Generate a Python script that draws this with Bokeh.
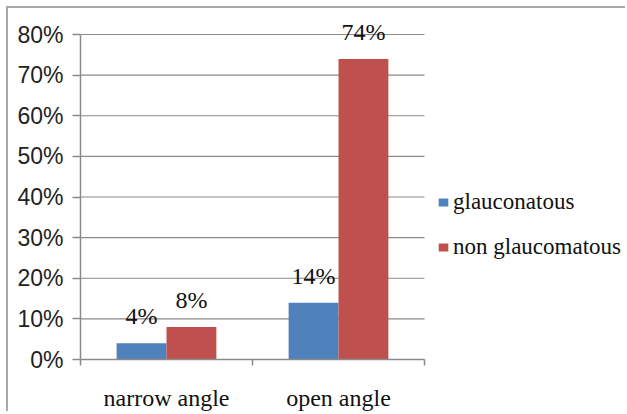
from bokeh.plotting import figure
from bokeh.models import (Range1d, FixedTicker, NumeralTickFormatter, ColumnDataSource,
                          LabelSet, Legend, LegendItem)
from bokeh.transform import dodge
from bokeh.embed import file_html
from bokeh.resources import INLINE

# ---- data ----
categories = ["narrow angle", "open angle"]
series_names = ["glauconatous", "non glaucomatous"]
glauconatous = [0.04, 0.14]
non_glaucomatous = [0.08, 0.74]
y_ticks = [0.0, 0.1, 0.2, 0.3, 0.4, 0.5, 0.6, 0.7, 0.8]

BLUE = "#4F81BD"
RED = "#C0504D"
GRID = "#8a8a8a"
SERIF = "Liberation Serif"
SANS = "Liberation Sans"

# layout (pixels): frame fills to the top and right edge so labels/legend aren't clipped
W_PX, H_PX = 619, 405
FRAME_L, FRAME_B = 72, 54
PLOT_W_PX, PLOT_H_PX = 344, 325   # pixel extent of the category span / 0..80% span
frame_w = W_PX - FRAME_L
frame_h = H_PX - FRAME_B
ncat = len(categories)
x_end = ncat * frame_w / PLOT_W_PX
y_end = y_ticks[-1] * frame_h / PLOT_H_PX

idx = list(range(ncat))
src = ColumnDataSource(dict(
    xc=[i + 0.5 for i in idx],
    g=glauconatous,
    n=non_glaucomatous,
    gl=[f"{round(v * 100)}%" for v in glauconatous],
    nl=[f"{round(v * 100)}%" for v in non_glaucomatous],
))

p = figure(width=W_PX, height=H_PX, output_backend="svg", toolbar_location=None,
           x_range=Range1d(0, x_end), y_range=Range1d(0, y_end),
           min_border_left=FRAME_L, min_border_right=0, min_border_top=0,
           min_border_bottom=FRAME_B)
p.outline_line_color = None
p.background_fill_color = "white"
p.border_fill_color = "white"
p.styles = {"border-top": "2px solid #a8a8a8", "border-left": "2px solid #a8a8a8",
            "margin-left": "6px", "margin-top": "6px"}

# gridlines over the category span only
p.segment(x0=[0] * len(y_ticks), x1=[ncat] * len(y_ticks), y0=y_ticks, y1=y_ticks,
          line_color=GRID, line_width=1.2)
p.xgrid.grid_line_color = None
p.ygrid.grid_line_color = None

W = 0.29
r1 = p.vbar(x=dodge("xc", -W / 2, range=p.x_range), top="g", width=W, source=src,
            fill_color=BLUE, line_color=None)
r2 = p.vbar(x=dodge("xc", W / 2, range=p.x_range), top="n", width=W, source=src,
            fill_color=RED, line_color=None)

for col, lab, off in (("g", "gl", -W / 2), ("n", "nl", W / 2)):
    p.add_layout(LabelSet(x=dodge("xc", off, range=p.x_range), y=col, text=lab, source=src,
                          y_offset=19, text_align="center", text_baseline="alphabetic",
                          text_font=SERIF, text_font_size="24px", text_color="#111111"))

# x axis
p.xaxis.bounds = (0, ncat)
p.xaxis.ticker = FixedTicker(ticks=[i + 0.5 for i in idx],
                             minor_ticks=[float(i) for i in range(ncat + 1)])
p.xaxis.major_label_overrides = {i + 0.5: c for i, c in zip(idx, categories)}
p.xaxis.major_tick_line_color = None
p.xaxis.major_tick_out = 0
p.xaxis.major_tick_in = 0
p.xaxis.minor_tick_out = 6
p.xaxis.minor_tick_in = 0
p.xaxis.minor_tick_line_color = GRID
p.xaxis.minor_tick_line_width = 1.5
p.xaxis.axis_line_color = GRID
p.xaxis.axis_line_width = 1.5
p.xaxis.major_label_standoff = 19
p.xaxis.major_label_text_font = SERIF
p.xaxis.major_label_text_font_size = "24px"
p.xaxis.major_label_text_color = "#111111"

# y axis
p.yaxis.bounds = (y_ticks[0], y_ticks[-1])
p.yaxis.ticker = FixedTicker(ticks=y_ticks)
p.yaxis.formatter = NumeralTickFormatter(format="0%")
p.yaxis.major_tick_out = 8
p.yaxis.major_tick_in = 0
p.yaxis.major_tick_line_color = GRID
p.yaxis.major_tick_line_width = 1.5
p.yaxis.minor_tick_line_color = None
p.yaxis.axis_line_color = GRID
p.yaxis.axis_line_width = 1.5
p.yaxis.major_label_standoff = 9
p.yaxis.major_label_text_font = SANS
p.yaxis.major_label_text_font_size = "23px"
p.yaxis.major_label_text_color = "#222222"

legend = Legend(items=[LegendItem(label=series_names[0], renderers=[r1]),
                       LegendItem(label=series_names[1], renderers=[r2])],
                location=(357, 99), orientation="vertical",
                glyph_width=12, glyph_height=10, label_standoff=4, spacing=19,
                padding=0, margin=0, border_line_color=None, background_fill_alpha=0,
                label_text_font=SERIF, label_text_font_size="23px", label_text_color="#111111",
                label_height=25)
p.add_layout(legend)

open("out.html", "w").write(file_html(p, INLINE))
